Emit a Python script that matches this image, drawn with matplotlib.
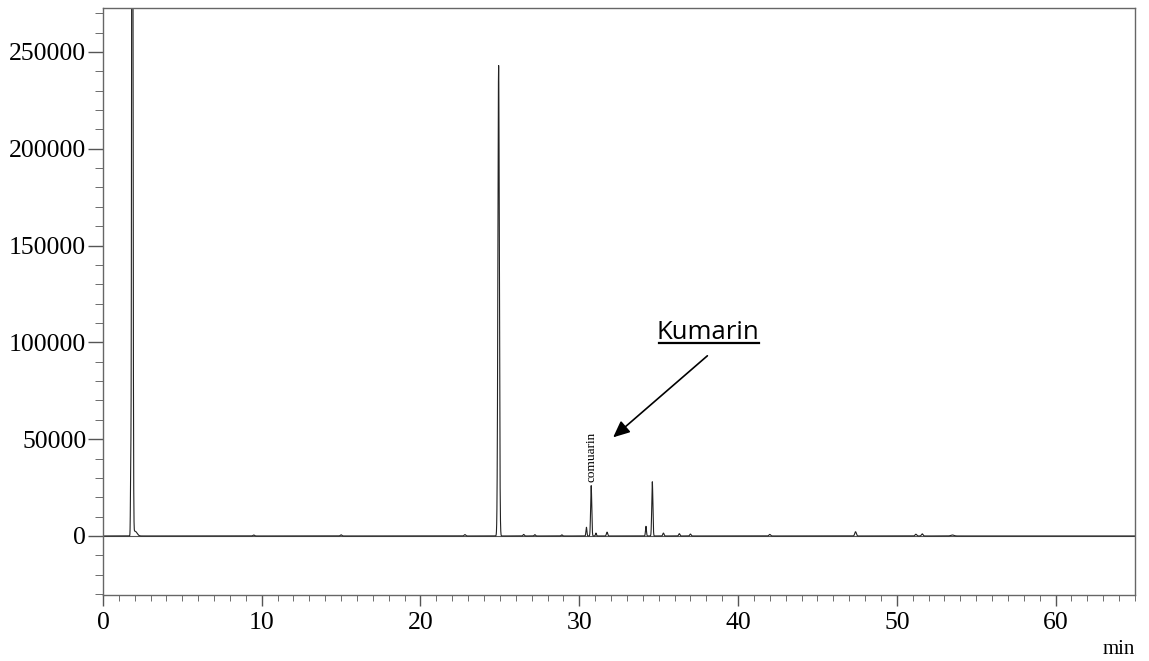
import numpy as np
import matplotlib
matplotlib.use("Agg")
import matplotlib.pyplot as plt
from matplotlib.ticker import MultipleLocator

# peak table: retention time (min), height, width (sigma, min)
peak_rt = [1.75, 1.85, 2.02, 9.5, 15.0, 22.8, 24.92, 26.5, 27.2, 28.9,
           30.45, 30.75, 31.05, 31.75, 34.2, 34.6, 35.3, 36.3, 37.0,
           42.0, 47.4, 51.2, 51.6, 53.5]
peak_h = [30000, 600000, 2500, 500, 600, 700, 243000, 800, 700, 600,
          4500, 26000, 1500, 2000, 5000, 28000, 1500, 1200, 1000,
          800, 2200, 900, 1100, 500]
peak_w = [0.02, 0.035, 0.12, 0.05, 0.05, 0.05, 0.045, 0.04, 0.04, 0.04,
          0.03, 0.035, 0.03, 0.04, 0.03, 0.035, 0.04, 0.04, 0.04,
          0.05, 0.05, 0.05, 0.05, 0.1]

t = np.arange(0, 65, 0.002)
signal = np.zeros_like(t)
for rt, h, w in zip(peak_rt, peak_h, peak_w):
    signal += h * np.exp(-0.5 * ((t - rt) / w) ** 2)

plt.rcParams['font.family'] = ['Liberation Serif', 'DejaVu Serif']

fig = plt.figure(figsize=(11.49, 6.61), dpi=100)
ax = fig.add_axes([0.0896, 0.0998, 0.8982, 0.8881])

ax.axhline(0, color='#555555', lw=0.8)
ax.plot(t, signal, color='#222222', lw=0.8)

ax.set_xlim(0, 65)
ax.set_ylim(-30500, 272700)

ax.xaxis.set_major_locator(MultipleLocator(10))
ax.xaxis.set_minor_locator(MultipleLocator(1))
ax.yaxis.set_major_locator(MultipleLocator(50000))
ax.yaxis.set_minor_locator(MultipleLocator(10000))
ax.tick_params(axis='both', which='major', labelsize=18.5, color='#555555', width=1)
ax.tick_params(axis='y', which='major', length=11, pad=1)
ax.tick_params(axis='y', which='minor', length=6, color='#555555')
ax.tick_params(axis='x', which='major', length=8, pad=4)
ax.tick_params(axis='x', which='minor', length=4, color='#555555')
for s in ax.spines.values():
    s.set_color('#666666')
    s.set_linewidth(1)

ax.text(1.0, -0.1, 'min', transform=ax.transAxes, ha='right', va='baseline', fontsize=15)

ax.text(30.75, 28000, 'comuarin', rotation=90, ha='center', va='bottom', fontsize=9.5)

ax.annotate('', xy=(32.0, 50000), xytext=(38.2, 94000),
            arrowprops=dict(arrowstyle='-|>,head_length=1.0,head_width=0.45', color='black', lw=1.2))
ax.text(38.1, 101500, 'Kumarin', ha='center', va='baseline', fontsize=18.5,
        family=['Open Sans', 'DejaVu Sans'])
ax.plot([35.0, 41.35], [99700, 99700], color='black', lw=1.6)

fig.savefig('out.png', dpi=100)
